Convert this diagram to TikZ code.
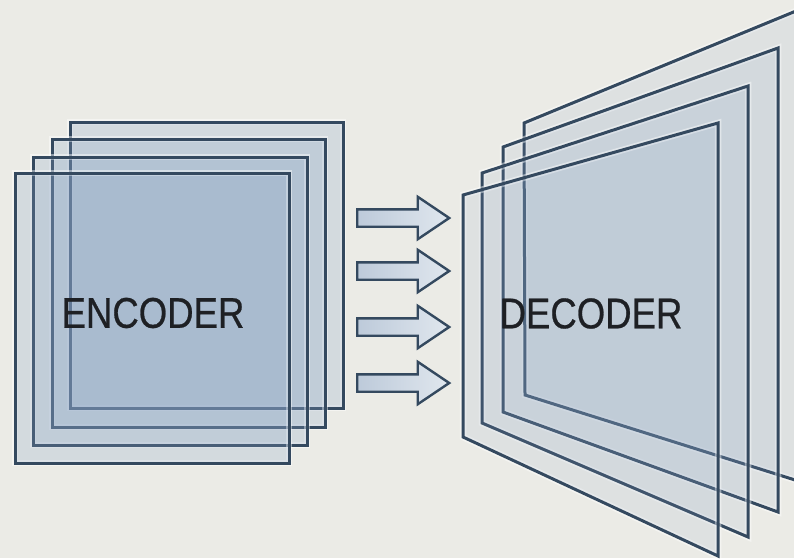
\documentclass[tikz,border=0pt]{standalone}
\usepackage{fontspec}
\usetikzlibrary{shapes.arrows}
\newfontfamily\labelfont[FakeStretch=0.85,FakeBold=0.6]{Liberation Sans}
\definecolor{bg}{HTML}{EBEBE6}
\definecolor{edge}{HTML}{34495F}
\definecolor{pane}{RGB}{138,164,198}
\definecolor{inktext}{HTML}{1E2024}
\definecolor{flowA}{HTML}{BDCADA}
\definecolor{flowB}{HTML}{E0E7EE}

\begin{document}
\begin{tikzpicture}[x=1pt,y=-1pt,
  panel/.style={fill=pane, fill opacity=#1, draw=edge, line width=3pt,
    preaction={draw=white, draw opacity=0.45, line width=6.5pt}},
  panel/.default=0.24,
  flow/.style={single arrow, draw=edge, line width=2.4pt,
    minimum height=92pt, inner xsep=0pt, inner ysep=7.5pt,
    single arrow head extend=12.5pt, single arrow tip angle=68,
    left color=flowA, right color=flowB, anchor=tail},
  stacktext/.style={font=\labelfont\fontsize{43}{43}\selectfont,
    text=inktext, inner sep=0pt, anchor=center}
]
\useasboundingbox (0,0) rectangle (794,558);
\clip (0,0) rectangle (794,558);
\fill[bg] (0,0) rectangle (794,558);

% encoder: four stacked square panels, back to front
\draw[panel] (70,122) rectangle (343,408);
\draw[panel] (52,139) rectangle (325,427);
\draw[panel] (33,157) rectangle (307,445);
\draw[panel] (15,173) rectangle (289,463);
\node[stacktext] (enc) at (153,313) {ENCODER};

% hand-over arrows
\node[flow] (a1) at (356,218) {};
\node[flow] (a2) at (356,271) {};
\node[flow] (a3) at (356,327) {};
\node[flow] (a4) at (356,383) {};

% decoder: four panels in perspective, back to front
\draw[panel=0.13] (524,123) -- (830,-3) -- (830,491) -- (525,395) -- cycle;
\draw[panel=0.13] (503,147) -- (778,48) -- (778,512) -- (503,412) -- cycle;
\draw[panel=0.13] (482,173) -- (748,86) -- (748,537) -- (482,423) -- cycle;
\draw[panel=0.13] (463,195) -- (718,123) -- (718,556) -- (463,437) -- cycle;
\node[stacktext] (dec) at (591,313.5) {DECODER};
\end{tikzpicture}
\end{document}
